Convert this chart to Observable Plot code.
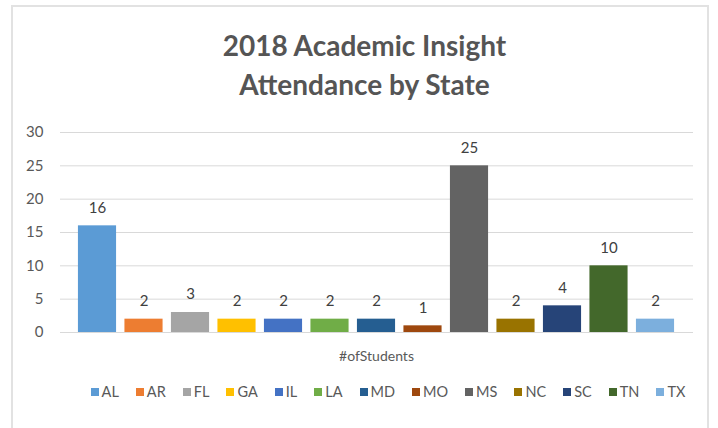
<!DOCTYPE html>
<html>
<head>
<meta charset="utf-8">
<script src="https://cdn.jsdelivr.net/npm/d3@7"></script>
<script src="https://cdn.jsdelivr.net/npm/@observablehq/plot@0.6"></script>
<style>
  html, body { margin: 0; padding: 0; background: #fff; }
  body { width: 718px; height: 428px; position: relative; overflow: hidden; font-family: Lato, "Open Sans", sans-serif; }
  #frame { position: absolute; left: 11px; top: 5px; width: 698px; height: 440px; border: 2px solid #e2e2e2; box-sizing: border-box; }
  #title { position: absolute; left: 0; top: 26px; width: 729px; text-align: center; font-size: 28px; font-weight: 700; line-height: 39px; color: #555555; }
  #chart { position: absolute; left: 0; top: 0; }
  #xlabel { position: absolute; left: 60px; width: 633px; top: 347px; text-align: center; font-size: 14px; color: #595959; }
  #legend { position: absolute; left: 0; width: 776px; top: 383px; display: flex; justify-content: center; font-size: 14.5px; color: #595959; }
  .item { display: flex; align-items: center; margin-right: 17px; }
  .item:last-child { margin-right: 0; }
  .sw { width: 8px; height: 8px; margin-right: 3px; }
</style>
</head>
<body>
<div id="frame"></div>
<div id="title">2018 Academic Insight<br>Attendance by State</div>
<div id="chart"></div>
<div id="xlabel">#ofStudents</div>
<div id="legend"></div>
<script>
const states = ["AL","AR","FL","GA","IL","LA","MD","MO","MS","NC","SC","TN","TX"];
const students = [16, 2, 3, 2, 2, 2, 2, 1, 25, 2, 4, 10, 2];
const colors = ["#5B9BD5","#ED7D31","#A5A5A5","#FFC000","#4472C4","#70AD47","#255E91","#9E480E","#636363","#997300","#264478","#43682B","#7CAFDD"];
const yTicks = [0, 5, 10, 15, 20, 25, 30];
const seriesLabel = "#ofStudents";

const data = states.map((s, i) => ({state: s, value: students[i]}));

const chart = Plot.plot({
  width: 718,
  height: 428,
  marginTop: 132,
  marginBottom: 96,
  marginLeft: 60,
  marginRight: 25,
  style: {background: "transparent", fontFamily: "Lato, 'Open Sans', sans-serif", fontSize: "15px", color: "#595959"},
  x: {domain: states, range: [73.75, 678.25], paddingInner: 0.18, paddingOuter: 0.09, round: false, axis: null},
  y: {domain: [0, 30], axis: null},
  color: {domain: states, range: colors},
  marks: [
    Plot.ruleY(yTicks, {stroke: "#d9d9d9", strokeWidth: 1}),
    Plot.axisY(yTicks, {tickSize: 0, tickPadding: 17, label: null, fill: "#595959", fontSize: 15}),
    Plot.barY(data, {x: "state", y: "value", fill: "state"}),
    Plot.text(data, {x: "state", y: "value", text: d => String(d.value), dy: -18, fill: "#404040", fontSize: 15})
  ]
});
document.getElementById("chart").appendChild(chart);

const legend = document.getElementById("legend");
states.forEach((s, i) => {
  const item = document.createElement("div");
  item.className = "item";
  const sw = document.createElement("div");
  sw.className = "sw";
  sw.style.background = colors[i];
  const t = document.createElement("span");
  t.textContent = s;
  item.appendChild(sw);
  item.appendChild(t);
  legend.appendChild(item);
});
</script>
</body>
</html>
